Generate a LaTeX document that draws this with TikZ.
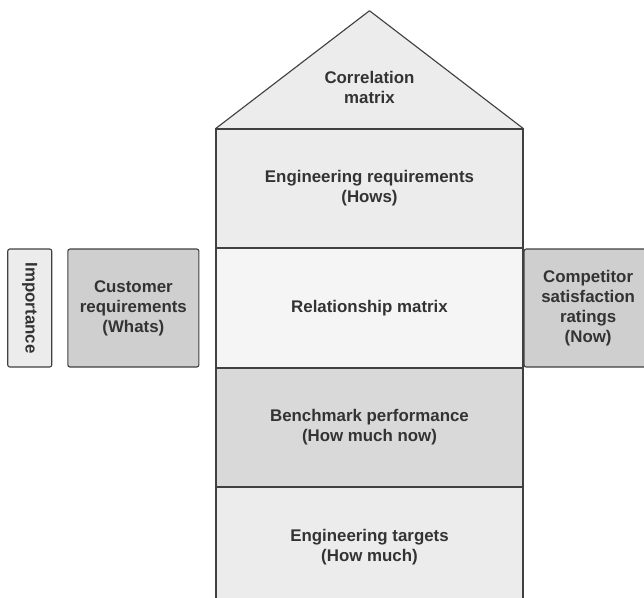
\documentclass[tikz,border=0pt]{standalone}
\usepackage{fontspec}
\setmainfont{Liberation Sans}
\usetikzlibrary{positioning}
\definecolor{edge}{HTML}{404040}
\definecolor{ink}{HTML}{333333}
\definecolor{pale}{HTML}{ECECEC}
\definecolor{paler}{HTML}{F5F5F5}
\definecolor{mid}{HTML}{D9D9D9}
\definecolor{dark}{HTML}{CFCFCF}
\begin{document}
\begin{tikzpicture}[block/.style = {draw=edge, line width=0.8pt, minimum width=7.675cm, minimum height=2.96cm, align=center, text=ink, font=\fontsize{12}{14.2}\selectfont\bfseries},
  side/.style = {block, rounded corners=1.5pt, minimum height=2.95cm}]
        \useasboundingbox (0,0) rectangle (16.1,-14.95);
        \clip (0,0) rectangle (16.1,-14.95);
        \node[block, fill=pale] (eng) at (9.2375,-4.7125) {Engineering requirements\\(Hows)};
        \node[block, fill=paler] (rel) [below=0pt of eng] {Relationship matrix};
        \node[block, fill=mid] (bench) [below=0pt of rel] {Benchmark performance\\(How much now)};
        \node[block, fill=pale] (tgt) [below=0pt of bench] {Engineering targets\\(How much)};
        \node[side, fill=dark, minimum width=3.275cm] (cust) [left=0.4cm of rel] {Customer\\requirements\\(Whats)};
        \node[side, fill=pale, minimum width=1.1cm] (imp) [left=0.375cm of cust] {};
        \node[rotate=-90, text=ink, font=\fontsize{12}{14.2}\selectfont\bfseries] (implabel) at (imp) {Importance};
        \node[side, fill=dark, minimum width=3.2cm] (comp) [right=0pt of rel] {Competitor\\satisfaction\\ratings\\(Now)};
        %
        \coordinate[above=2.95cm of eng.north] (apex);
        \draw[draw=edge, fill=pale, line width=0.8pt, line join=round] (eng.north west) -- (apex) -- (eng.north east) -- cycle;
        \path (eng.north) -- (apex) node[pos=0.35, align=center, text=ink, font=\fontsize{12}{14.2}\selectfont\bfseries] (corr) {Correlation\\matrix};
      \end{tikzpicture}
\end{document}
